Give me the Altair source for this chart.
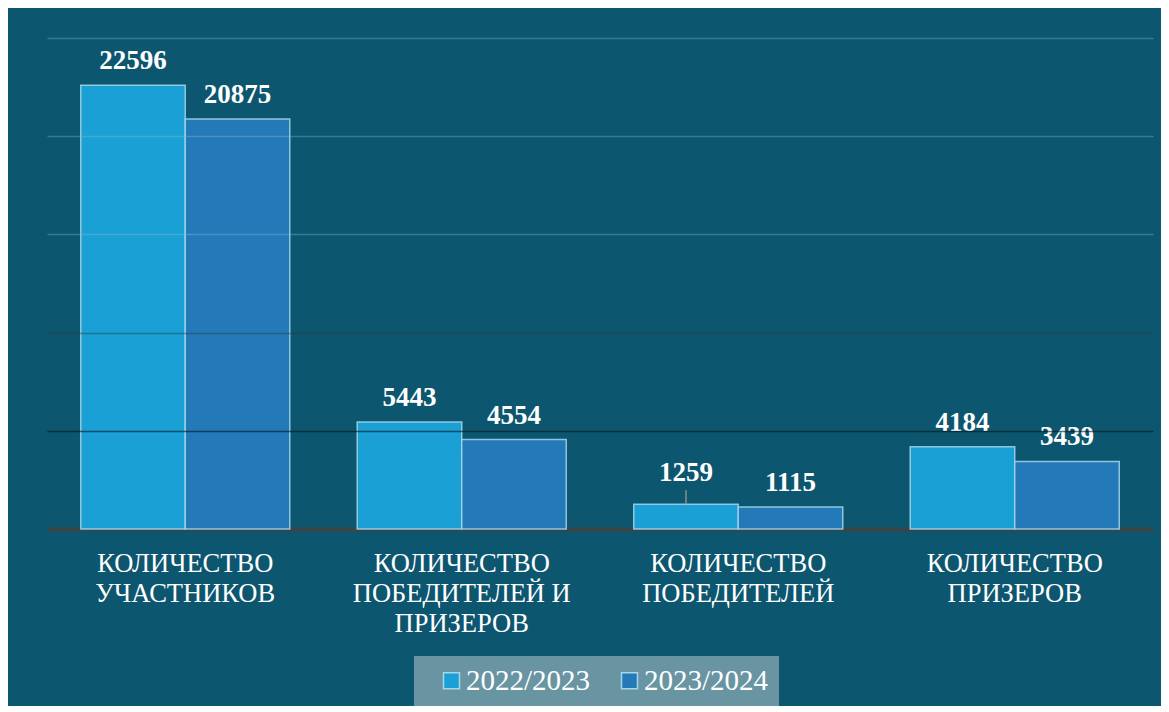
import altair as alt
import pandas as pd

categories = [
    "КОЛИЧЕСТВО|УЧАСТНИКОВ",
    "КОЛИЧЕСТВО|ПОБЕДИТЕЛЕЙ И|ПРИЗЕРОВ",
    "КОЛИЧЕСТВО|ПОБЕДИТЕЛЕЙ",
    "КОЛИЧЕСТВО|ПРИЗЕРОВ",
]
years = ["2022/2023", "2023/2024"]
values_2022 = [22596, 5443, 1259, 4184]
values_2023 = [20875, 4554, 1115, 3439]
colors = ["#1aa0d4", "#247ab8"]
grid_values = [5000, 10000, 15000, 20000, 25000]

rows = []
for c, a, b in zip(categories, values_2022, values_2023):
    rows.append({"cat": c, "year": years[0], "value": a})
    rows.append({"cat": c, "year": years[1], "value": b})
df = pd.DataFrame(rows)

BG = "#0d566f"
SERIF = "Liberation Serif"

x = alt.X(
    "cat:N",
    sort=categories,
    scale=alt.Scale(paddingInner=0.244, paddingOuter=0.122),
    axis=alt.Axis(
        title=None,
        labelExpr="split(datum.label, '|')",
        labelAngle=0,
        labelFont=SERIF,
        labelFontSize=26.5,
        labelColor="#ffffff",
        labelLineHeight=30,
        labelPadding=21,
        labelLimit=400,
        ticks=False,
        domainColor="#3d4447",
        domainWidth=4,
        grid=False,
    ),
)
xoff = alt.XOffset("year:N", sort=years, scale=alt.Scale(paddingInner=0, paddingOuter=0))
y = alt.Y(
    "value:Q",
    scale=alt.Scale(domain=[0, 25000], nice=False),
    axis=alt.Axis(
        title=None,
        labels=False,
        ticks=False,
        domain=False,
        values=grid_values,
        gridWidth=1.5,
        gridColor={
            "condition": [
                {"test": "datum.value === 5000", "value": "rgba(0,22,32,0.6)"},
                {"test": "datum.value === 10000", "value": "rgba(45,60,66,0.45)"},
            ],
            "value": "rgba(140,190,210,0.35)",
        },
        zindex=1,
    ),
)

color = alt.Color(
    "year:N",
    sort=years,
    scale=alt.Scale(domain=years, range=colors),
    title=None,
    legend=alt.Legend(
        orient="none",
        legendX=367,
        legendY=618,
        direction="horizontal",
        symbolType="square",
        symbolSize=256,
        symbolStrokeColor="#a6d6ea",
        symbolStrokeWidth=1.5,
        symbolOffset=13,
        labelFont=SERIF,
        labelFontSize=29,
        labelColor="#ffffff",
        labelOffset=0,
        labelLimit=300,
        columnPadding=11,
        padding=10,
        fillColor="#6995a3",
    ),
)

base = alt.Chart(df)

bars = base.mark_bar(stroke="#a6d6ea", strokeWidth=1.5, strokeOpacity=0.85).encode(
    x=x, xOffset=xoff, y=y, color=color
)

special = f"datum.cat === '{categories[2]}' && datum.year === '{years[0]}'"

labels = base.transform_filter("!(" + special + ")").mark_text(
    baseline="alphabetic", dy=-16, font=SERIF, fontSize=27, fontWeight="bold", color="#ffffff"
).encode(x=x, xOffset=xoff, y=y, text=alt.Text("value:Q", format="d"))

label_special = base.transform_filter(special).mark_text(
    baseline="alphabetic", dy=-23, font=SERIF, fontSize=27, fontWeight="bold", color="#ffffff"
).encode(x=x, xOffset=xoff, y=y, text=alt.Text("value:Q", format="d"))

leader = base.transform_filter(special).mark_rule(
    color="#8c8c8c", strokeWidth=1.5, y2Offset=-14
).encode(x=x, xOffset=xoff, y=y, y2="value:Q")

chart = (
    alt.layer(bars, leader, labels, label_special)
    .properties(
        width=1106,
        height=491,
        background=BG,
        padding={"left": 39, "top": 30, "right": 8, "bottom": 0},
    )
    .configure_view(stroke=None)
)

chart.save("out.html", embed_options={"renderer": "svg", "actions": False})
